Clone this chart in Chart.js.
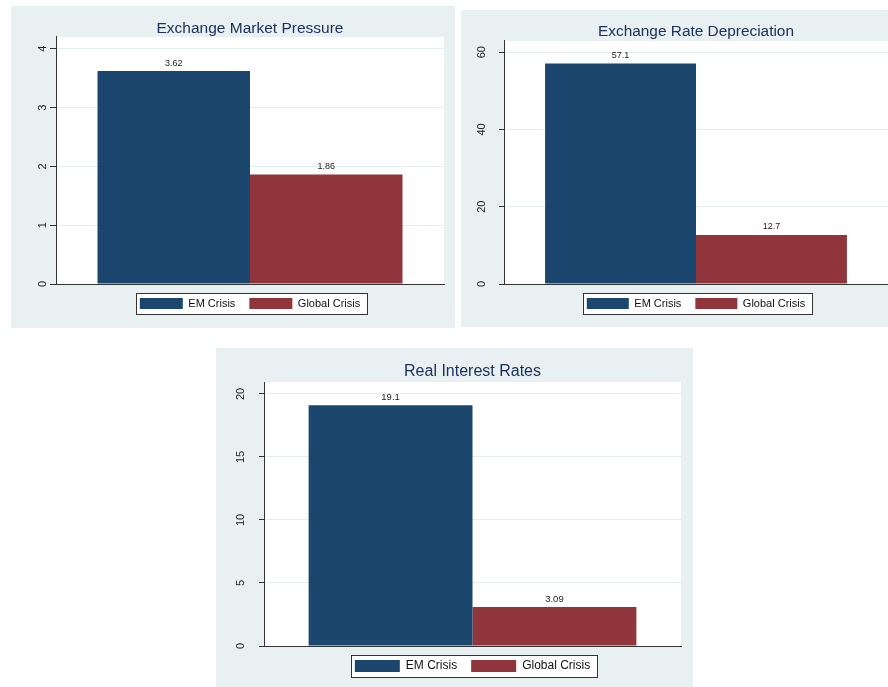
<!DOCTYPE html>
<html>
<head>
<meta charset="utf-8">
<title>EM Crisis vs Global Crisis</title>
<script src="https://cdn.jsdelivr.net/npm/chart.js@4.4.1/dist/chart.umd.min.js"></script>
<style>
  html, body { margin: 0; padding: 0; background: #fff; }
  body { width: 888px; height: 687px; position: relative; overflow: hidden; }
  .panel { position: absolute; background: #e8f0f2; }
  .panel canvas { display: block; }
</style>
</head>
<body>
<div class="panel" style="left:11px;top:6px;width:444px;height:322px"><canvas id="chart0" width="444" height="322"></canvas></div>
<div class="panel" style="left:461px;top:10px;width:427px;height:317px"><canvas id="chart1" width="427" height="317"></canvas></div>
<div class="panel" style="left:216px;top:348px;width:477px;height:339px"><canvas id="chart2" width="477" height="339"></canvas></div>

<script>
// Chart data
const seriesNames = ['EM Crisis', 'Global Crisis'];
const panelTitles = ['Exchange Market Pressure', 'Exchange Rate Depreciation', 'Real Interest Rates'];
const emCrisis = [3.62, 57.1, 19.1];
const globalCrisis = [1.86, 12.7, 3.09];
const axisMax = [4.2, 62.9, 20.95];
const tickStep = [1, 20, 5];

const seriesColors = ['#1b476f', '#90353b'];
const fontFamily = 'Arial, "Liberation Sans", Helvetica, sans-serif';

// Per-panel layout tweaks
const layouts = [
    { padRight: 11, padBottom: 9, yWidth: 45, tickLen: 6, tickPad: 4, titleSize: 15.5, titleTop: 13.7, titleBottom: -1.3, legendSize: 11, swatchW: 43, swatchH: 11, labelSize: 9 },
    { padRight: 0, padBottom: 8, yWidth: 43, tickLen: 5, tickPad: 11, titleSize: 15.4, titleTop: 12.8, titleBottom: -0.3, legendSize: 11, swatchW: 42, swatchH: 11, labelSize: 9 },
    { padRight: 12, padBottom: 5, yWidth: 48, tickLen: 5, tickPad: 12, titleSize: 16, titleTop: 14.4, titleBottom: 0.4, legendSize: 12, swatchW: 45, swatchH: 12, labelSize: 9.5 }
];

// White plot region and framed legend
const plotBackground = {
    id: 'plotBackground',
    beforeDraw(chart) {
        const ctx = chart.ctx;
        const a = chart.chartArea;
        ctx.save();
        ctx.fillStyle = '#ffffff';
        ctx.fillRect(a.left, a.top, a.right - a.left, a.bottom - a.top);

        const boxes = chart.legend && chart.legend.legendHitBoxes;
        if (boxes && boxes.length) {
            const l = Math.round(Math.min(...boxes.map(b => b.left)) - 4);
            const r = Math.round(Math.max(...boxes.map(b => b.left + b.width)) + 7);
            const t = Math.round(boxes[0].top - 5);
            const b = Math.round(boxes[0].top + boxes[0].height + 5);
            ctx.fillRect(l, t, r - l, b - t);
            ctx.strokeStyle = '#333';
            ctx.lineWidth = 1;
            ctx.strokeRect(l + 0.5, t + 0.5, r - l, b - t);
        }
        ctx.restore();
    }
};

// Value printed above each bar
const valueLabels = {
    id: 'valueLabels',
    afterDatasetsDraw(chart, args, opts) {
        const ctx = chart.ctx;
        ctx.save();
        ctx.font = opts.size + 'px ' + fontFamily;
        ctx.fillStyle = '#222';
        ctx.textAlign = 'center';
        ctx.textBaseline = 'middle';
        chart.data.datasets.forEach((ds, i) => {
            chart.getDatasetMeta(i).data.forEach((bar, j) => {
                ctx.fillText(String(ds.data[j]), bar.x, bar.y - 8);
            });
        });
        ctx.restore();
    }
};

panelTitles.forEach((title, i) => {
    const L = layouts[i];
    const values = [emCrisis[i], globalCrisis[i]];
    const ctx = document.getElementById('chart' + i);

    new Chart(ctx, {
        type: 'bar',
        data: {
            labels: [''],
            datasets: seriesNames.map((name, s) => ({
                label: name,
                data: [values[s]],
                backgroundColor: seriesColors[s],
                borderWidth: 0,
                categoryPercentage: 0.786,
                barPercentage: 1
            }))
        },
        options: {
            responsive: false,
            animation: false,
            layout: {
                padding: { left: 0, right: L.padRight, top: 0, bottom: L.padBottom }
            },
            plugins: {
                title: {
                    display: true,
                    text: title,
                    fullSize: false,
                    color: '#1c3160',
                    font: { family: fontFamily, size: L.titleSize, weight: 'normal' },
                    padding: { top: L.titleTop, bottom: L.titleBottom }
                },
                legend: {
                    position: 'bottom',
                    fullSize: false,
                    labels: {
                        boxWidth: L.swatchW,
                        boxHeight: L.swatchH,
                        padding: 14,
                        color: '#111',
                        font: { family: fontFamily, size: L.legendSize }
                    }
                },
                tooltip: { enabled: false },
                valueLabels: { size: L.labelSize }
            },
            scales: {
                x: {
                    grid: { display: false, drawTicks: false },
                    ticks: { display: false },
                    border: { color: '#333' }
                },
                y: {
                    min: 0,
                    max: axisMax[i],
                    afterFit(scale) { scale.width = L.yWidth; },
                    ticks: {
                        stepSize: tickStep[i],
                        includeBounds: false,
                        minRotation: 90,
                        maxRotation: 90,
                        crossAlign: 'center',
                        padding: L.tickPad,
                        color: '#222',
                        font: { family: fontFamily, size: 11 }
                    },
                    grid: { color: '#e4eef0', tickColor: '#333', tickLength: L.tickLen },
                    border: { color: '#333' }
                }
            }
        },
        plugins: [plotBackground, valueLabels]
    });
});
</script>
</body>
</html>
